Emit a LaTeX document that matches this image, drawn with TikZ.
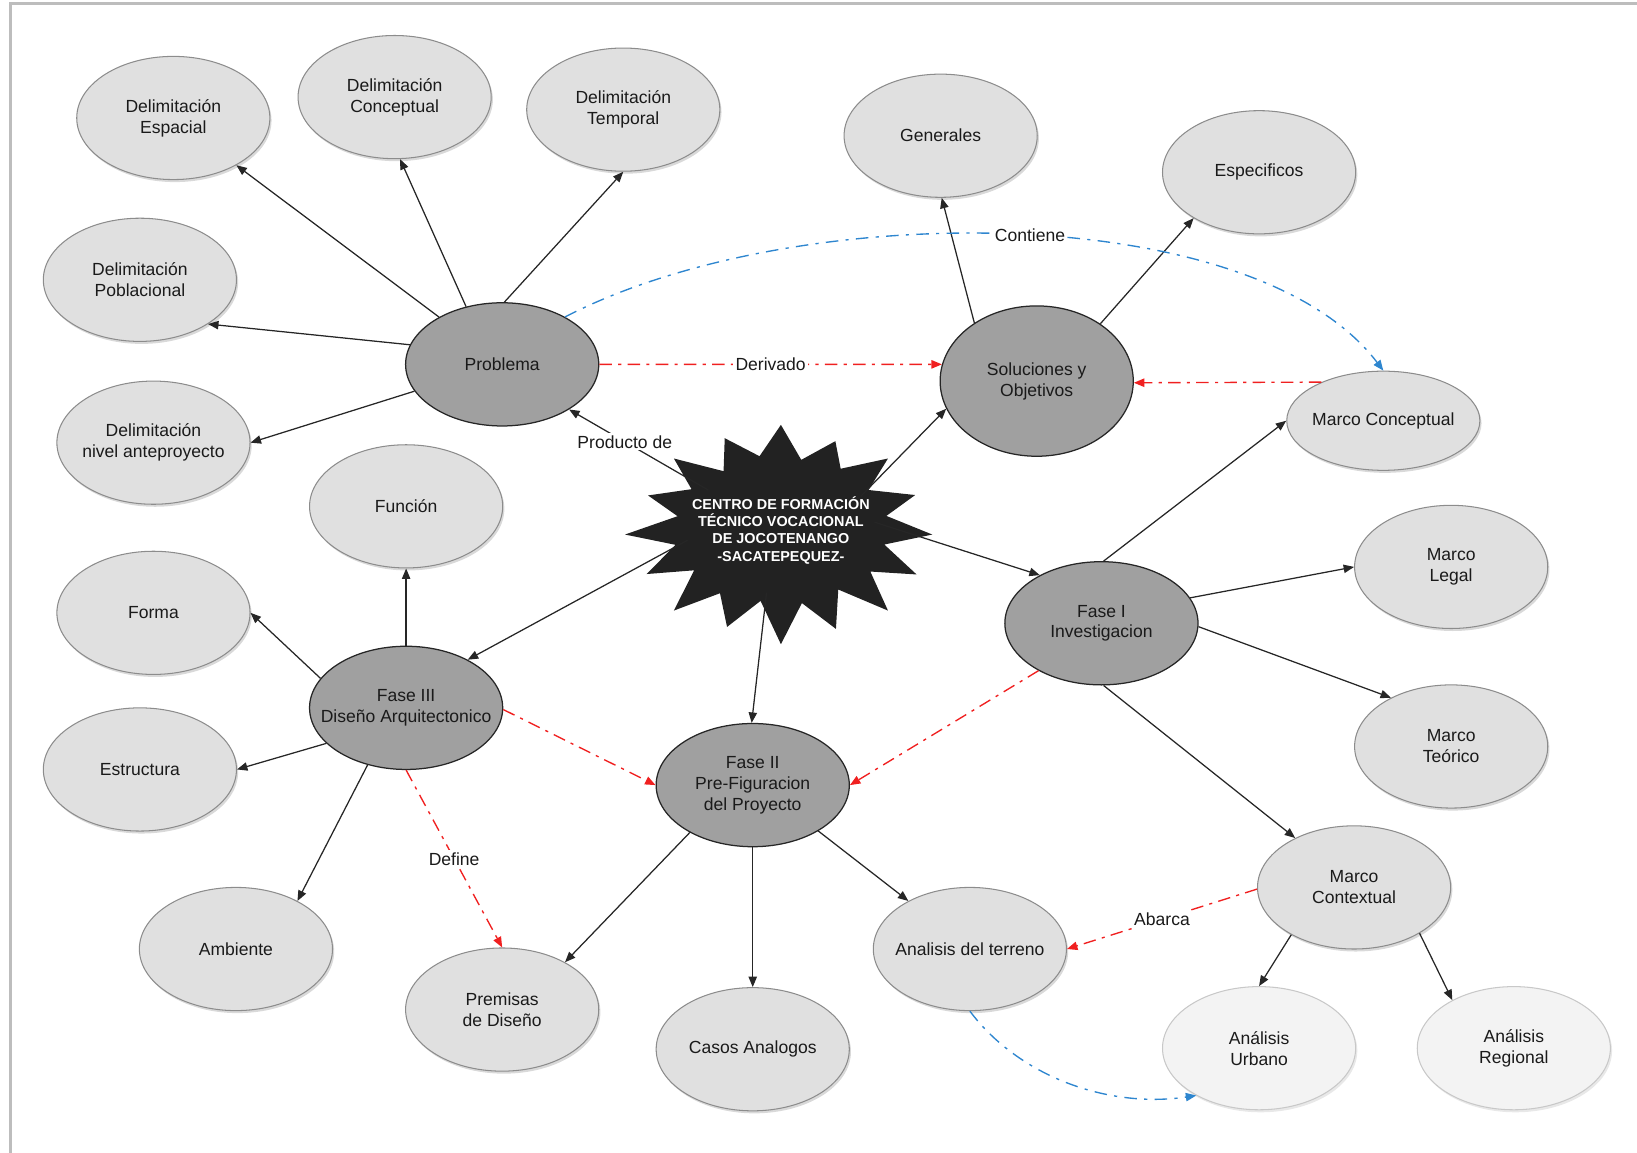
\documentclass[tikz,border=0pt]{standalone}
\usepackage{fontspec}
\setmainfont{Liberation Sans}
\usetikzlibrary{shapes.geometric,arrows.meta,shadows,calc}
\definecolor{litefill}{HTML}{E0E0E0}
\definecolor{litedraw}{HTML}{8C8C8C}
\definecolor{palefill}{HTML}{F3F3F3}
\definecolor{paledraw}{HTML}{C8C8C8}
\definecolor{darkfill}{HTML}{A0A0A0}
\definecolor{redc}{HTML}{F02020}
\definecolor{bluec}{HTML}{2E86CF}
\definecolor{framec}{HTML}{BDBDBD}
\definecolor{starc}{HTML}{222222}
\definecolor{txt}{HTML}{1A1A1A}
\begin{document}
\begin{tikzpicture}[x=0.5pt,y=-0.5pt,
  base/.style={ellipse, minimum width=92.5pt, minimum height=59pt, inner xsep=-16pt, inner ysep=-4pt, align=center, text=txt, font=\fontsize{8.4}{10}\selectfont},
  lite/.style={base, fill=litefill, draw=litedraw, line width=0.5pt, drop shadow={shadow xshift=0.8pt, shadow yshift=-1.2pt, opacity=0.3}},
  pale/.style={base, fill=palefill, draw=paledraw, line width=0.5pt, drop shadow={shadow xshift=0.8pt, shadow yshift=-1.2pt, opacity=0.18}},
  dark/.style={base, fill=darkfill, draw=black!85, line width=0.6pt},
  arr/.style={draw=black!85, line width=0.6pt, -{Triangle[length=5pt,width=4pt]}},
  reddash/.style={draw=redc, line width=0.65pt, dash pattern=on 6pt off 3pt on 1.5pt off 3pt, -{Triangle[length=5pt,width=4pt]}},
  bluedash/.style={draw=bluec, line width=0.65pt, dash pattern=on 6pt off 3.5pt on 1.5pt off 3.5pt, -{Triangle[length=5pt,width=4pt]}},
  lbl/.style={fill=white, inner sep=1pt, text=txt, font=\fontsize{8.4}{10}\selectfont}
]
\useasboundingbox (0,0) rectangle (1568,1104);
\draw[framec, line width=1.2pt] (10,1104) -- (10,3.5) -- (1568,3.5);

% light nodes
\node[lite] (DE) at (166,113) {Delimitación\\Espacial};
\node[lite] (DC) at (378,93) {Delimitación\\Conceptual};
\node[lite] (DT) at (597,105) {Delimitación\\Temporal};
\node[lite] (DP) at (134,268) {Delimitación\\Poblacional};
\node[lite] (DN) at (147,424) {Delimitación\\nivel anteproyecto};
\node[lite] (Gen) at (901,130) {Generales};
\node[lite] (Esp) at (1206,165) {Especificos};
\node[lite, minimum height=47.5pt] (MC) at (1325,403) {Marco Conceptual};
\node[lite] (ML) at (1390,543) {Marco\\Legal};
\node[lite] (MT) at (1390,715) {Marco\\Teórico};
\node[lite] (MCx) at (1297,850) {Marco\\Contextual};
\node[pale] (AU) at (1206,1004) {Análisis\\Urbano};
\node[pale] (AR) at (1450,1004) {Análisis\\Regional};
\node[lite] (AT) at (929,909) {Analisis del terreno};
\node[lite] (CA) at (721,1005) {Casos Analogos};
\node[lite] (PD) at (481,967) {Premisas\\de Diseño};
\node[lite] (Amb) at (226,909) {Ambiente};
\node[lite] (Est) at (134,737) {Estructura};
\node[lite] (For) at (147,587) {Forma};
\node[lite] (Fun) at (389,485) {Función};
% dark nodes
\node[dark] (Prob) at (481,349) {Problema};
\node[dark, minimum height=72pt] (SO) at (993,365) {Soluciones y\\Objetivos};
\node[dark] (F1) at (1055,597) {Fase I\\Investigacion};
\node[dark] (F2) at (721,752) {Fase II\\Pre-Figuracion\\del Proyecto};
\node[dark] (F3) at (389,678) {Fase III\\Diseño Arquitectonico};
\node[ellipse, minimum width=90pt, minimum height=60pt, inner sep=0pt] (star) at (748,508) {};

% starburst
\fill[starc] (893,512) \foreach \k/\f/\g in {1/0.97/0.98, 2/1.0/1.0, 3/0.95/0.96, 4/1.02/1.0, 5/0.93/0.97, 6/1.0/1.02, 7/0.96/0.97, 8/1.03/1.0, 9/0.95/0.98, 10/1.0/1.0, 11/0.97/0.96, 12/1.02/1.02, 13/0.94/0.97, 14/1.0/1.0, 15/0.96/0.98, 16/1.0/1.0} { -- ({748+103*\g*cos(\k*360/16-180/16)}, {508+71*\g*sin(\k*360/16-180/16)}) -- ({748+145*\f*cos(\k*360/16)}, {508+4+103*\f*sin(\k*360/16)}) } -- cycle;

% black connectors
\draw[arr] (Prob) -- (DE);
\draw[arr] (Prob.122) -- (DC.-85);
\draw[arr] (Prob.88) -- (DT.-90);
\draw[arr] (Prob.168) -- (DP.-33);
\draw[arr] (Prob.197) -- (DN.0);
\draw[arr] (star.151) -- node[lbl,pos=0.6]{Producto de} (Prob.-34);
\draw[arr] (star.23) -- (SO.197);
\draw[arr] (star.5) -- (F1.142);
\draw[arr] (star.186) -- (F3.38);
\draw[arr] (star.257) -- (F2.91);
\draw[arr] (SO.137) -- (Gen.-89);
\draw[arr] (SO.42) -- (Esp.215);
\draw[arr] (F1.88) -- (MC.180);
\draw[arr] (F1.16) -- (ML.180);
\draw[arr] (F1.-2) -- (MT.141);
\draw[arr] (F1.-88) -- (MCx.140);
\draw[arr] (MCx.217) -- (AU.90);
\draw[arr] (MCx.-35) -- (AR.142);
\draw[arr] (F2.217) -- (PD.37);
\draw[arr] (F2.-90) -- (CA.90);
\draw[arr] (F2.-35) -- (AT.142);
\draw[arr] (F3.90) -- (Fun.-90);
\draw[arr] (F3.161) -- (For.0);
\draw[arr] (F3.204) -- (Est.0);
\draw[arr] (F3.236) -- (Amb.38);

% red dash-dot connectors
\draw[reddash] (Prob.0) -- node[lbl]{Derivado} (SO.170);
\draw[reddash] (MC.148) -- (SO.-1);
\draw[reddash] (F3.-1) -- (F2.180);
\draw[reddash] (F1.217) -- (F2.0);
\draw[reddash] (F3.-90) -- node[lbl]{Define} (PD.90);
\draw[reddash] (MCx.181) -- node[lbl]{Abarca} (AT.0);

% blue dash-dot curves
\draw[bluedash] (Prob.37) .. controls (760,190) and (1200,190) .. node[lbl,pos=0.52]{Contiene} (MC.90);
\draw[bluedash] (AT.-90) .. controls (975,1030) and (1060,1062) .. (AU.217);

% star text
\node[font=\bfseries\fontsize{6.9}{8.3}\selectfont, text=white, align=center] (startext) at (star.center) {CENTRO DE FORMACIÓN\\TÉCNICO VOCACIONAL\\DE JOCOTENANGO\\-SACATEPEQUEZ-};
\end{tikzpicture}
\end{document}
